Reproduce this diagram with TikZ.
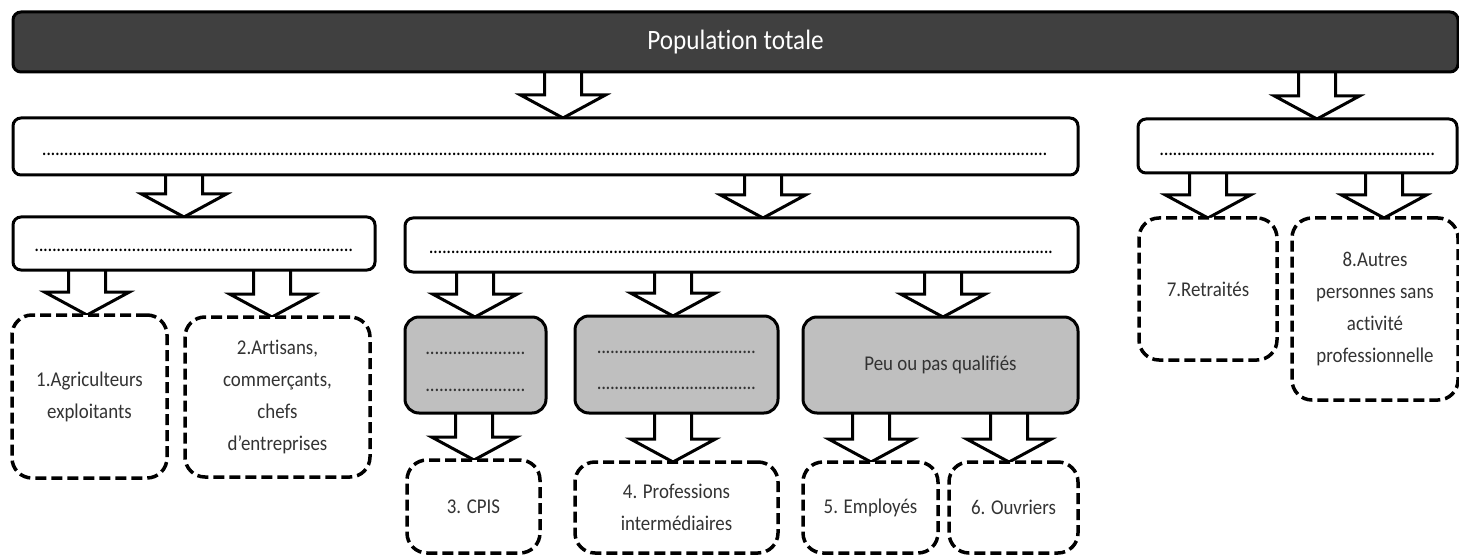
\documentclass[tikz,border=0pt]{standalone}
\usepackage{fontspec}
\setmainfont{Carlito}[FakeStretch=0.9, Ligatures=NoCommon]
\usetikzlibrary{calc}
\pgfdeclarelayer{background}
\pgfsetlayers{background,main}
\definecolor{barfill}{HTML}{404040}
\definecolor{grayfill}{HTML}{BFBFBF}
\definecolor{txt}{HTML}{333333}
% a row of dots of the given width (pt)
\newcommand\dotsrow[1]{\hbox to #1pt{\xleaders\hbox to 4.4pt{\hss.\hss}\hfill}}
% shift content vertically without changing the node size
\newcommand\lowered[2]{\makebox[0pt]{\raisebox{#1pt}[0pt][0pt]{#2}}}
% hollow block arrow from one box down to another, centred on x = #1
\newcommand\blockarrow[3]{%
  \begin{pgfonlayer}{background}
  \path[barrow] let \p1=(#2.center), \p2=(#3.north), \p3=(#1,0) in
    (\x3-18.5pt,\y1) -- (\x3-18.5pt,\y2+23pt) -- (\x3-42.5pt,\y2+23pt)
    -- (\x3,\y2) -- (\x3+42.5pt,\y2+23pt) -- (\x3+18.5pt,\y2+23pt)
    -- (\x3+18.5pt,\y1);
  \end{pgfonlayer}}
\tikzset{
  every node/.style={inner sep=0pt, outer sep=0pt},
  solidbox/.style={draw=black, line width=3pt, fill=white, rounded corners=8pt,
    anchor=north west, text=black, font=\fontsize{21}{32}\selectfont},
  darkbox/.style={solidbox, fill=barfill, text=white, font=\fontsize{28}{32}\selectfont},
  graybox/.style={draw=black, line width=3pt, fill=grayfill, rounded corners=14pt,
    anchor=north west, text=txt, font=\fontsize{21}{32}\selectfont},
  dashbox/.style={draw=black, line width=3.5pt, dash pattern=on 11pt off 5pt, fill=white,
    rounded corners=20pt, anchor=north west, align=center, text=txt,
    font=\fontsize{21}{32}\selectfont},
  barrow/.style={draw=black, fill=white, line width=3pt, line join=miter},
}
\begin{document}
\begin{tikzpicture}[x=1pt,y=-1pt]
\useasboundingbox (0,0) rectangle (1459,556);

% level 0
\node[darkbox, minimum width=1445, minimum height=60] (top) at (13,12) {Population totale};

% level 1
\node[solidbox, minimum width=1065, minimum height=57] (actifs) at (13,118) {\lowered{-8.8}{\dotsrow{1007}}};
\node[solidbox, minimum width=319, minimum height=54] (inactifs) at (1138,119) {\lowered{-9.3}{\dotsrow{276}}};

% level 2
\node[solidbox, minimum width=362, minimum height=53] (indep) at (13,217) {\lowered{-7.8}{\dotsrow{319}}};
\node[solidbox, minimum width=673, minimum height=54] (salaries) at (405,218) {\lowered{-8.3}{\dotsrow{625}}};
\node[dashbox, minimum width=138, minimum height=142] (retr) at (1139,218) {7.Retraités};
\node[dashbox, minimum width=166, minimum height=182] (autres) at (1292,218)
  {8.Autres\\personnes sans\\activité\\professionnelle};

% level 3
\node[dashbox, minimum width=155, minimum height=163] (agri) at (12,315) {1.Agriculteurs\\exploitants};
\node[dashbox, minimum width=185, minimum height=160] (artis) at (185,317)
  {2.Artisans,\\commerçants,\\chefs\\d’entreprises};
\node[graybox, minimum width=141, minimum height=96] (qual1) at (405,317)
  {\lowered{10.7}{\dotsrow{100}}\lowered{-26.3}{\dotsrow{100}}};
\node[graybox, minimum width=203, minimum height=97] (qual2) at (575,316)
  {\lowered{11.2}{\dotsrow{159}}\lowered{-24.8}{\dotsrow{159}}};
\node[graybox, minimum width=275, minimum height=96] (peu) at (803,317) {Peu ou pas qualifiés};

% level 4
\node[dashbox, minimum width=133, minimum height=93] (cpis) at (407,460) {3. CPIS};
\node[dashbox, minimum width=203, minimum height=91] (inter) at (575,462) {4. Professions\\intermédiaires};
\node[dashbox, minimum width=135, minimum height=91] (empl) at (803,462) {5. Employés};
\node[dashbox, minimum width=129, minimum height=91] (ouvr) at (949,462) {6. Ouvriers};

% connectors
\blockarrow{563}{top}{actifs}
\blockarrow{1317}{top}{inactifs}
\blockarrow{184}{actifs}{indep}
\blockarrow{763}{actifs}{salaries}
\blockarrow{1208}{inactifs}{retr}
\blockarrow{1384}{inactifs}{autres}
\blockarrow{87}{indep}{agri}
\blockarrow{272}{indep}{artis}
\blockarrow{475}{salaries}{qual1}
\blockarrow{673}{salaries}{qual2}
\blockarrow{943}{salaries}{peu}
\blockarrow{474}{qual1}{cpis}
\blockarrow{673}{qual2}{inter}
\blockarrow{871}{peu}{empl}
\blockarrow{1009}{peu}{ouvr}
\end{tikzpicture}
\end{document}
